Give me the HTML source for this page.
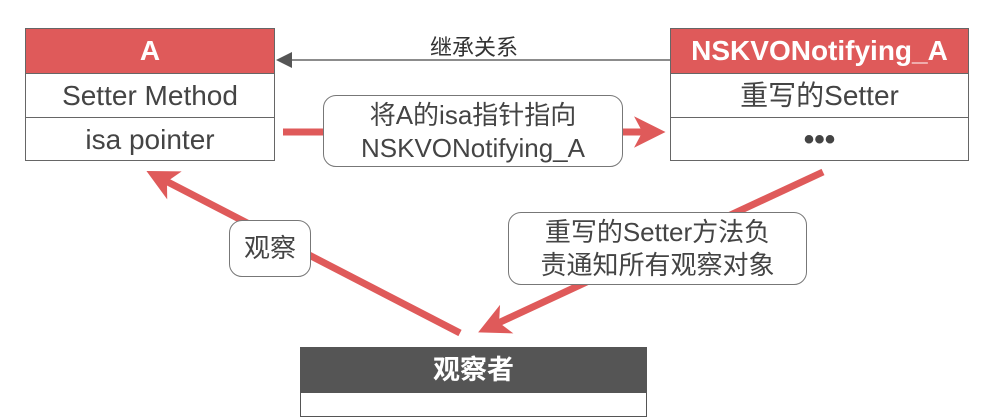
<!DOCTYPE html>
<html><head><meta charset="utf-8"><style>
body{margin:0;width:988px;height:401px;background:#fff;overflow:hidden;position:relative;font-family:"Liberation Sans","Noto Sans CJK SC",sans-serif;color:#444}
.box{position:absolute;border:1.5px solid #666;background:#fff;box-sizing:border-box}
.row{height:44px;line-height:44px;text-align:center;font-size:28px;border-top:1.5px solid #666;box-sizing:border-box}
.hd{height:44px;line-height:44px;text-align:center;font-size:28px;color:#fff;background:#df5a5a;font-weight:bold}
.lbl{position:absolute;border:1.5px solid #777;border-radius:13px;background:#fff;text-align:center;font-size:26px;line-height:33px;box-sizing:border-box;color:#444}
</style></head><body>
<svg width="988" height="401" style="position:absolute;left:0;top:0">
<defs>
<marker id="r" markerWidth="4.5" markerHeight="4.5" refX="2" refY="2.25" orient="auto"><path d="M0,0L4.5,2.25L0,4.5L1.2,2.25z" fill="#df5a5a"/></marker>
</defs>
<line x1="670" y1="60" x2="290" y2="60" stroke="#666" stroke-width="1.5"/>
<path d="M276,60L292,52L292,68z" fill="#555"/>
<line x1="283" y1="132" x2="324" y2="132" stroke="#df5a5a" stroke-width="7"/>
<line x1="622" y1="132" x2="648" y2="132" stroke="#df5a5a" stroke-width="7" marker-end="url(#r)"/>
<line x1="460" y1="333" x2="162" y2="179" stroke="#df5a5a" stroke-width="7" marker-end="url(#r)"/>
<line x1="823" y1="172" x2="494" y2="325" stroke="#df5a5a" stroke-width="7" marker-end="url(#r)"/>
</svg>
<div style="position:absolute;left:430px;top:30px;font-size:22px;color:#333">继承关系</div>
<div class="box" style="left:25px;top:28px;width:250px;height:133px">
<div class="hd">A</div><div class="row">Setter Method</div><div class="row">isa pointer</div></div>
<div class="box" style="left:670px;top:28px;width:299px;height:133px">
<div class="hd">NSKVONotifying_A</div><div class="row">重写的Setter</div><div class="row" style="font-size:30px;font-weight:bold">•••</div></div>
<div class="lbl" style="left:323px;top:95px;width:300px;height:72px;padding-top:3px">将A的isa指针指向<br>NSKVONotifying_A</div>
<div class="lbl" style="left:229px;top:220px;width:82px;height:57px;line-height:55px">观察</div>
<div class="lbl" style="left:508px;top:212px;width:299px;height:73px;padding-top:3px">重写的Setter方法负<br>责通知所有观察对象</div>
<div class="box" style="left:300px;top:347px;width:347px;height:70px;border-color:#555">
<div class="hd" style="background:#555;height:45px;font-size:27px">观察者</div></div>
</body></html>
